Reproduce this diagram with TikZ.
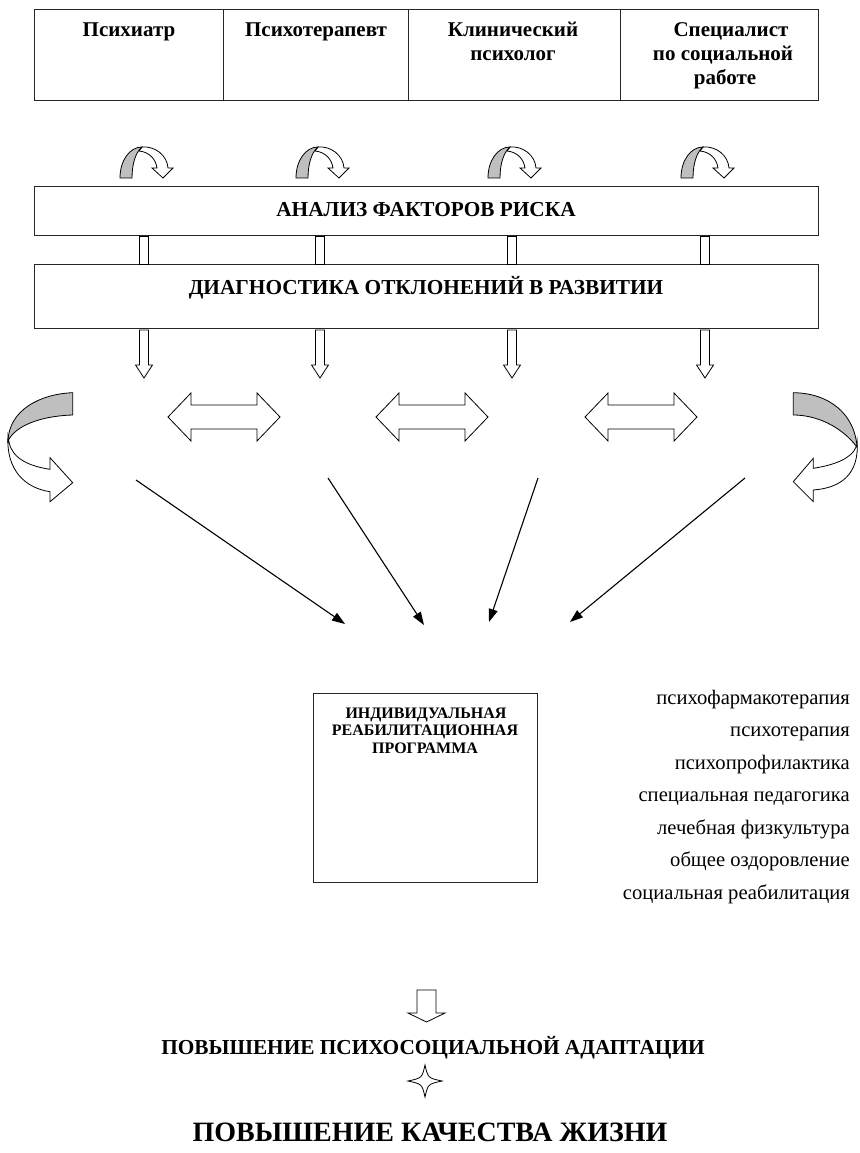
\documentclass[tikz,border=0pt]{standalone}
\usepackage{fontspec}
\setmainfont{Liberation Serif}
\usetikzlibrary{arrows.meta}
\begin{document}
\begin{tikzpicture}[x=1pt,y=-1pt,
  frame/.style={draw=black!85, line width=1.1pt},
  cellbox/.style={frame, minimum height=91pt, inner sep=0pt, anchor=north west},
  barbox/.style={frame, minimum width=784pt, inner sep=0pt, anchor=north west},
  hdr/.style={font=\fontsize{21}{24}\selectfont\bfseries, anchor=base, inner sep=0pt},
  bartext/.style={font=\fontsize{21.3}{24}\selectfont\bfseries, anchor=base, inner sep=0pt},
  progtext/.style={font=\fontsize{16}{18}\selectfont\bfseries, anchor=base, inner sep=0pt},
  item/.style={font=\fontsize{20.6}{22}\selectfont, anchor=base east, inner sep=0pt},
  blk/.style={draw=black, line width=0.8pt, fill=white, line join=miter},
  backside/.style={draw=black, line width=0.8pt, fill=black!25},
  ptr/.style={line width=1.1pt, -{Triangle[length=13pt,width=9pt]}},
  turnarrow/.pic={
    \draw[blk] (22,-31) .. controls (35,-32) and (47,-23) .. (48,-10) -- (53,-10) -- (43,0) -- (32,-10) -- (37,-10) .. controls (36,-18) and (30,-26) .. (19,-27) -- cycle;
    \draw[backside] (0,0) .. controls (0,-18) and (10,-31) .. (22,-31) .. controls (16,-26) and (12,-15) .. (12,0) -- cycle;
  },
  downblk/.pic={
    \draw[blk] (-4.5,0) -- (4.5,0) -- (4.5,35) -- (8.5,35) -- (0,48) -- (-8.5,35) -- (-4.5,35) -- cycle;
  },
  dblarrow/.pic={
    \draw[blk] (-56,0) -- (-33,-24) -- (-33,-12) -- (33,-12) -- (33,-24) -- (56,0) -- (33,24) -- (33,12) -- (-33,12) -- (-33,24) -- cycle;
  }
]
\useasboundingbox (0,0) rectangle (859,1153);

% table of specialists
\node[cellbox, minimum width=189pt] (c1) at (34,9) {};
\node[cellbox, minimum width=185pt] (c2) at (223,9) {};
\node[cellbox, minimum width=212pt] (c3) at (408,9) {};
\node[cellbox, minimum width=198pt] (c4) at (620,9) {};
\node[hdr] (t1) at (129,37) {Психиатр};
\node[hdr] (t2) at (316,37) {Психотерапевт};
\node[hdr] (t3a) at (513,37) {Клинический};
\node[hdr] (t3b) at (513,61) {психолог};
\node[hdr] (t4a) at (731,37) {Специалист};
\node[hdr] (t4b) at (723,61) {по социальной};
\node[hdr] (t4c) at (725,85) {работе};

% turning arrows
\foreach \cx in {144,320,512,705} {
  \pic at (\cx-24,178) {turnarrow};
}

% bars
\node[barbox, minimum height=49pt] (bar1) at (34,186) {};
\node[bartext] (bar1t) at (426,216) {АНАЛИЗ ФАКТОРОВ РИСКА};
\node[barbox, minimum height=64pt] (bar2) at (34,264) {};
\node[bartext] (bar2t) at (426,294) {ДИАГНОСТИКА ОТКЛОНЕНИЙ В РАЗВИТИИ};

% links between bars and down arrows
\foreach \cx [count=\i] in {144,320,512,705} {
  \node[blk, minimum width=9pt, minimum height=28pt, inner sep=0pt, anchor=north] (link\i) at (\cx,236) {};
  \pic at (\cx,330) {downblk};
}

% double arrows
\pic at (224,417) {dblarrow};
\pic at (432,417) {dblarrow};
\pic at (641,417) {dblarrow};

% left big curved arrow
\draw[blk] (8,436) .. controls (6,470) and (25,488) .. (50,491.7) -- (50,501.7) -- (72.7,482.7) -- (50,457.7) -- (50,469.3) .. controls (28,466) and (12,458) .. (9,442) -- cycle;
\draw[backside] (72.7,392.7) .. controls (40,394) and (9,410) .. (8,441) .. controls (15,426) and (40,416) .. (72.7,415) -- cycle;

% right big curved arrow
\draw[blk] (857,440) .. controls (860,475) and (840,488) .. (813.3,490) -- (813.3,501.7) -- (793.3,481.7) -- (813.3,458.3) -- (813.3,468.3) .. controls (835,465) and (852,458) .. (856,447) -- cycle;
\draw[backside] (793.3,392.7) .. controls (830,393) and (855,415) .. (857,447) .. controls (840,425) and (815,415) .. (793.3,415) -- cycle;

% straight arrows to the program
\coordinate (s1) at (136,480); \coordinate (e1) at (345,624);
\coordinate (s2) at (328,478); \coordinate (e2) at (424,625);
\coordinate (s3) at (538,478); \coordinate (e3) at (489,622);
\coordinate (s4) at (745,478); \coordinate (e4) at (570,622);
\draw[ptr] (s1) -- (e1);
\draw[ptr] (s2) -- (e2);
\draw[ptr] (s3) -- (e3);
\draw[ptr] (s4) -- (e4);

% program box
\node[frame, minimum width=224pt, minimum height=189pt, inner sep=0pt, anchor=north west] (prog) at (313,693) {};
\node[progtext] (p1) at (426,718) {ИНДИВИДУАЛЬНАЯ};
\node[progtext] (p2) at (425,735.5) {РЕАБИЛИТАЦИОННАЯ};
\node[progtext] (p3) at (425,753) {ПРОГРАММА};

% list
\node[item] (l1) at (850,704) {психофармакотерапия};
\node[item] (l2) at (850,736.5) {психотерапия};
\node[item] (l3) at (850,769) {психопрофилактика};
\node[item] (l4) at (850,801.5) {специальная педагогика};
\node[item] (l5) at (850,834) {лечебная физкультура};
\node[item] (l6) at (850,866.5) {общее оздоровление};
\node[item] (l7) at (850,899) {социальная реабилитация};

% bottom
\draw[blk] (417,990) -- (436,990) -- (436,1013) -- (445,1013) -- (426.5,1022) -- (408,1013) -- (417,1013) -- cycle;
\node[font=\fontsize{21.3}{24}\selectfont\bfseries, anchor=base, inner sep=0pt] (adapt) at (433,1054) {ПОВЫШЕНИЕ ПСИХОСОЦИАЛЬНОЙ АДАПТАЦИИ};
\draw[blk] (425,1065) .. controls (428,1078) .. (442,1081) .. controls (428,1084) .. (425,1097) .. controls (422,1084) .. (408,1081) .. controls (422,1078) .. cycle;
\node[font=\fontsize{28}{30}\selectfont\bfseries, anchor=base, inner sep=0pt] (life) at (430,1141) {ПОВЫШЕНИЕ КАЧЕСТВА ЖИЗНИ};
\end{tikzpicture}
\end{document}
